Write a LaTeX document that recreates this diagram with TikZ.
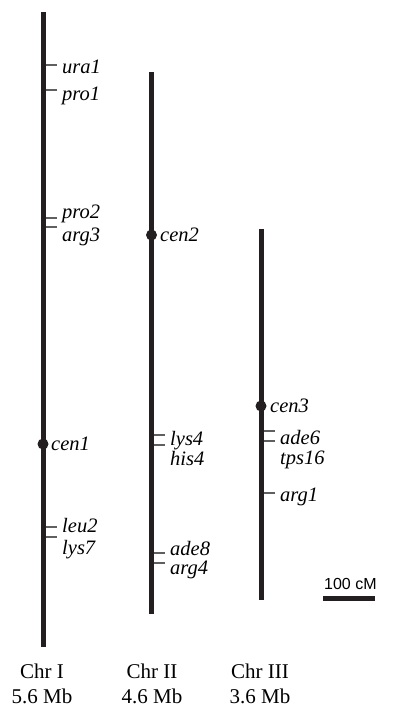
\documentclass[tikz,border=0pt]{standalone}
\usepackage{fontspec}
\setmainfont{Liberation Serif}
\setsansfont{Liberation Sans}
\definecolor{chrom}{RGB}{35,31,32}
\definecolor{tickgray}{RGB}{95,95,95}
\tikzset{
  chromosome/.style={line width=5pt, draw=chrom},
  locus/.style={line width=1.3pt, draw=tickgray},
  centromere/.style={circle, fill=chrom, inner sep=0pt, minimum size=11pt},
  gene/.style={anchor=base west, inner sep=0pt, font=\fontsize{20.5}{24}\selectfont\itshape},
  chrlabel/.style={anchor=base, align=center, inner sep=0pt, font=\fontsize{21}{25}\selectfont},
  scalebar/.style={line width=4.5pt, draw=chrom},
}
\begin{document}
\begin{tikzpicture}[x=1pt,y=-1pt]
\useasboundingbox (0,0) rectangle (393,707);

% ---------- Chromosome I ----------
% gene list: name / tick position / label baseline
\coordinate (c1top) at (43,12);
\coordinate (c1bot) at (43,647);
\foreach \g/\ty/\ly in {ura1/65/73, pro1/90/100, pro2/218/218, arg3/227/241,
                        leu2/527/532, lys7/537/554} {
  \coordinate (t-\g) at (43,\ty);
  \coordinate (e-\g) at (57,\ty);
  \draw[locus] (t-\g) -- (e-\g);
  \node[gene] (\g) at (62,\ly) {\g};
}
\draw[chromosome] (c1top) -- (c1bot);
\node[centromere] (cen1dot) at (43,444) {};
\node[gene] (cen1) at (51,450) {cen1};

% ---------- Chromosome II ----------
\coordinate (c2top) at (151.5,72);
\coordinate (c2bot) at (151.5,614);
\foreach \g/\ty/\ly in {lys4/435/445, his4/445/465, ade8/553/555, arg4/563/574} {
  \coordinate (t-\g) at (151.5,\ty);
  \coordinate (e-\g) at (165,\ty);
  \draw[locus] (t-\g) -- (e-\g);
  \node[gene] (\g) at (170,\ly) {\g};
}
\draw[chromosome] (c2top) -- (c2bot);
\node[centromere] (cen2dot) at (151.5,235) {};
\node[gene] (cen2) at (160,241) {cen2};

% ---------- Chromosome III ----------
\coordinate (c3top) at (261,229);
\coordinate (c3bot) at (261,600);
\foreach \g/\ty/\ly in {ade6/431/444, tps16/441/464, arg1/493/501} {
  \coordinate (t-\g) at (261,\ty);
  \coordinate (e-\g) at (275,\ty);
  \draw[locus] (t-\g) -- (e-\g);
  \node[gene] (\g) at (280,\ly) {\g};
}
\draw[chromosome] (c3top) -- (c3bot);
\node[centromere] (cen3dot) at (261,406) {};
\node[gene] (cen3) at (270,412) {cen3};

% ---------- Chromosome names and sizes ----------
\node[chrlabel] (chrI)   at (42,703)  {Chr I\\5.6 Mb};
\node[chrlabel] (chrII)  at (152,703) {Chr II\\4.6 Mb};
\node[chrlabel] (chrIII) at (260,703) {Chr III\\3.6 Mb};

% ---------- Scale bar ----------
\coordinate (sb-l) at (323,598.5);
\coordinate (sb-r) at (375,598.5);
\draw[scalebar] (sb-l) -- (sb-r);
\node[anchor=base west, inner sep=0pt, font=\sffamily\fontsize{16}{19}\selectfont]
  (sblabel) at (324,589) {100 cM};
\end{tikzpicture}
\end{document}
